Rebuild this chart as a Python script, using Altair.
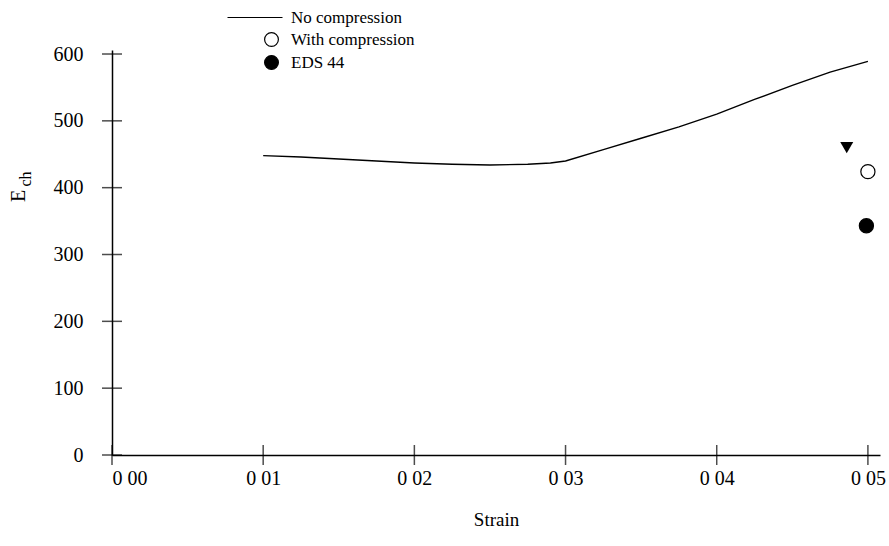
import altair as alt
import pandas as pd

# --- data ---
line_strain = [0.010, 0.0125, 0.015, 0.0175, 0.020, 0.0225, 0.025, 0.0275, 0.029, 0.030,
               0.0325, 0.035, 0.0375, 0.040, 0.0425, 0.045, 0.0475, 0.050]
line_ech = [448, 446, 443, 440, 437, 435, 434, 435, 437, 440,
            457, 474, 491, 510, 532, 553, 573, 589]

point_series = ["With compression", "EDS 44"]
point_strain = [0.0500, 0.0499]
point_ech = [424, 343]

tri_strain = [0.0486]
tri_ech = [460]

x_ticks = [0.00, 0.01, 0.02, 0.03, 0.04, 0.05]
x_tick_labels = ["0 00", "0 01", "0 02", "0 03", "0 04", "0 05"]
y_ticks = [0, 100, 200, 300, 400, 500, 600]

FONT = "Liberation Serif"

line_df = pd.DataFrame({"strain": line_strain, "ech": line_ech, "series": "No compression"})
pts_df = pd.DataFrame({"strain": point_strain, "ech": point_ech, "series": point_series})
tri_df = pd.DataFrame({"strain": tri_strain, "ech": tri_ech})
xt_df = pd.DataFrame({"strain": x_ticks, "ech": [0] * len(x_ticks)})
yt_df = pd.DataFrame({"strain": [0.0] * len(y_ticks), "ech": y_ticks})

label_expr = str(x_tick_labels) + "[round(datum.value * 100)]"

xscale = alt.Scale(domain=[0, 0.0508], nice=False, zero=False)
yscale = alt.Scale(domain=[0, 606], nice=False)

x_enc = alt.X("strain:Q", scale=xscale, axis=alt.Axis(
    values=x_ticks, labelExpr=label_expr, ticks=False, grid=False,
    title="Strain", labelPadding=13, titlePadding=22,
    labelFont=FONT, labelFontSize=20, titleFont=FONT, titleFontSize=19,
    titleFontWeight="normal", labelColor="black", titleColor="black",
    domainColor="black", domainWidth=1.5))
y_enc = alt.Y("ech:Q", scale=yscale, axis=alt.Axis(
    values=y_ticks, ticks=False, grid=False, title=None, labelPadding=29,
    labelFont=FONT, labelFontSize=20, labelColor="black",
    domainColor="black", domainWidth=1.5))

line = alt.Chart(line_df).mark_line(strokeWidth=1.4).encode(
    x=x_enc, y=y_enc,
    color=alt.Color("series:N", scale=alt.Scale(domain=["No compression"], range=["black"]),
                    legend=alt.Legend(title=None, orient="none", legendX=115, legendY=-60.5,
                                      symbolType="stroke", symbolSize=3025, symbolStrokeWidth=1,
                                      labelFont=FONT, labelFontSize=17, labelColor="black",
                                      labelOffset=8, padding=0)),
)

pts = alt.Chart(pts_df).mark_point(filled=True, shape="circle", size=200, stroke="black",
                                   strokeWidth=1.2, opacity=1).encode(
    x="strain:Q", y="ech:Q",
    fill=alt.Fill("series:N", scale=alt.Scale(domain=point_series, range=["white", "black"]),
                  legend=alt.Legend(title=None, orient="none", legendX=151, legendY=-19,
                                    symbolType="circle", symbolSize=190, symbolStrokeColor="black",
                                    symbolStrokeWidth=1.2, symbolOpacity=1,
                                    labelFont=FONT, labelFontSize=17, labelColor="black",
                                    labelOffset=11, rowPadding=4, padding=0)),
)

tri = alt.Chart(tri_df).mark_point(filled=True, shape="triangle-down", size=170,
                                   color="black", opacity=1).encode(x="strain:Q", y="ech:Q")

xt = alt.Chart(xt_df).mark_tick(orient="vertical", size=20, thickness=1.5, color="black").encode(
    x="strain:Q", y="ech:Q")
yt = alt.Chart(yt_df).mark_tick(orient="horizontal", size=20, thickness=1.5, color="black").encode(
    x="strain:Q", y="ech:Q")

e_title = alt.Chart(pd.DataFrame({"t": ["E"]})).mark_text(
    angle=270, font=FONT, fontSize=20, color="black", align="center", baseline="middle").encode(
    text="t:N", x=alt.value(-93), y=alt.value(146))
ch_title = alt.Chart(pd.DataFrame({"t": ["ch"]})).mark_text(
    angle=270, font=FONT, fontSize=16, color="black", align="center", baseline="middle").encode(
    text="t:N", x=alt.value(-86), y=alt.value(129))

chart = alt.layer(line, pts, tri, xt, yt, e_title, ch_title).properties(
    width=768, height=405,
    autosize=alt.AutoSizeParams(type="none"),
    padding={"left": 112, "top": 50, "right": 9, "bottom": 91},
    background="white",
).configure_view(stroke=None)

chart.save("out.html", embed_options={"renderer": "svg", "actions": False})
